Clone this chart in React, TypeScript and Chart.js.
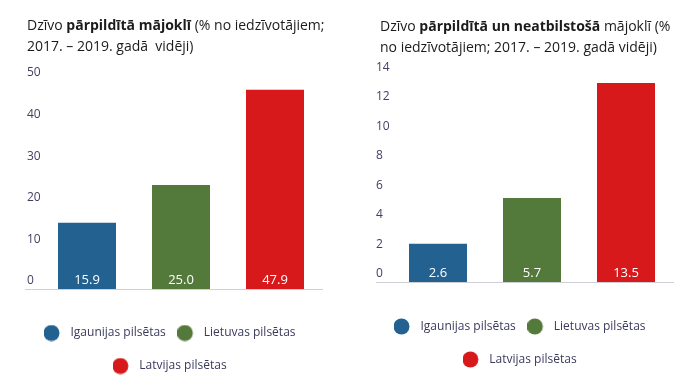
import React, { useEffect, useRef } from "react";
import { Chart, registerables } from "chart.js";

Chart.register(...registerables);

const categories = ["Igaunijas pilsētas", "Lietuvas pilsētas", "Latvijas pilsētas"];
const barColors = ["#236190", "#537a3b", "#d7191c"];
const overcrowdedValues = [15.9, 25.0, 47.9];
const overcrowdedPoorValues = [2.6, 5.7, 13.5];
const leftTickValues = [0, 10, 20, 30, 40, 50];
const rightTickValues = [0, 2, 4, 6, 8, 10, 12, 14];

const FONT = "'Open Sans', 'Noto Sans', sans-serif";
const TICK_COLOR = "#3f3f63";
const LEGEND_COLOR = "#3a3a5c";

function makeDot(color: string) {
  const c = document.createElement("canvas");
  c.width = 30;
  c.height = 17;
  const g = c.getContext("2d")!;
  g.fillStyle = color;
  g.beginPath();
  g.arc(7.5, 8.5, 8, 0, Math.PI * 2);
  g.fill();
  return c;
}

const baselinePlugin = {
  id: "baselineAndValues",
  afterDatasetsDraw(chart: any, _args: any, opts: any) {
    const { ctx, chartArea, scales } = chart;
    const y0 = scales.y.getPixelForValue(0);
    ctx.save();
    ctx.strokeStyle = "#cfcfd8";
    ctx.lineWidth = 1;
    ctx.beginPath();
    const yy = Math.round(y0) + 0.5;
    ctx.moveTo(scales.y.left - (opts.extendLeft || 0), yy);
    ctx.lineTo(chartArea.right + 1, yy);
    ctx.stroke();
    const meta = chart.getDatasetMeta(0);
    const data = chart.data.datasets[0].data;
    ctx.fillStyle = "#ffffff";
    ctx.font = `13px ${FONT}`;
    ctx.textAlign = "center";
    ctx.textBaseline = "middle";
    meta.data.forEach((bar: any, i: number) => {
      ctx.fillText(Number(data[i]).toFixed(1), bar.x, y0 - 8.5);
    });
    ctx.restore();
  },
};

type BarProps = {
  values: number[];
  ticks: number[];
  width: number;
  height: number;
  pad: { top: number; left: number; right: number; bottom: number };
  yWidth: number;
  xHeight: number;
  extendLeft: number;
};

function BarChart(p: BarProps) {
  const ref = useRef<HTMLCanvasElement | null>(null);
  useEffect(() => {
    const dots = barColors.map(makeDot);
    const chart = new Chart(ref.current!, {
      type: "bar",
      data: {
        labels: categories,
        datasets: [
          {
            data: p.values,
            backgroundColor: barColors,
            borderWidth: 0,
            categoryPercentage: 1,
            barPercentage: 0.617,
          },
        ],
      },
      plugins: [baselinePlugin],
      options: {
        responsive: false,
        animation: false,
        layout: { padding: p.pad },
        scales: {
          x: {
            type: "category",
            ticks: { display: false },
            grid: { display: false },
            border: { display: false },
            afterFit: (s: any) => {
              s.height = p.xHeight;
            },
          },
          y: {
            min: p.ticks[0],
            max: p.ticks[p.ticks.length - 1],
            afterBuildTicks: (s: any) => {
              s.ticks = p.ticks.map((v) => ({ value: v }));
            },
            ticks: {
              mirror: true,
              crossAlign: "near",
              padding: -p.yWidth,
              labelOffset: -8,
              color: TICK_COLOR,
              font: { family: FONT, size: 12 },
            },
            grid: { display: false },
            border: { display: false },
            afterFit: (s: any) => {
              s.width = p.yWidth;
            },
          },
        },
        plugins: {
          tooltip: { enabled: false },
          baselineAndValues: { extendLeft: p.extendLeft },
          legend: {
            position: "bottom",
            labels: {
              usePointStyle: true,
              boxWidth: 11,
              boxHeight: 11,
              padding: 21,
              color: LEGEND_COLOR,
              font: { family: FONT, size: 12 },
              generateLabels: () =>
                categories.map((t, i) => ({
                  text: t,
                  fillStyle: barColors[i],
                  strokeStyle: barColors[i],
                  lineWidth: 0,
                  pointStyle: dots[i],
                  hidden: false,
                  index: i,
                  datasetIndex: 0,
                  fontColor: LEGEND_COLOR,
                })),
            },
          },
        } as any,
      } as any,
    });
    return () => chart.destroy();
  }, []);
  return <canvas ref={ref} width={p.width} height={p.height} style={{ display: "block" }} />;
}

const titleStyle: React.CSSProperties = {
  position: "absolute",
  fontFamily: FONT,
  fontSize: 14,
  lineHeight: "21px",
  color: "#1b1b1b",
  whiteSpace: "pre",
  margin: 0,
};

export default function App() {
  return (
    <div style={{ position: "absolute", left: 0, top: 0, width: 689, height: 382, background: "#fff", overflow: "hidden" }}>
      <div style={{ position: "absolute", left: 0, top: 0 }}>
        <BarChart
          values={overcrowdedValues}
          ticks={leftTickValues}
          width={345}
          height={382}
          pad={{ top: 81, left: 27, right: 23, bottom: 0 }}
          yWidth={13}
          xHeight={17}
          extendLeft={2}
        />
      </div>
      <div style={{ position: "absolute", left: 345, top: 0 }}>
        <BarChart
          values={overcrowdedPoorValues}
          ticks={rightTickValues}
          width={344}
          height={382}
          pad={{ top: 75.5, left: 31, right: 16, bottom: 6.5 }}
          yWidth={15}
          xHeight={17.5}
          extendLeft={0}
        />
      </div>
      <div style={{ ...titleStyle, left: 27, top: 14 }}>
        {"Dzīvo "}<b>pārpildītā</b>{" "}<b>mājoklī</b>{" (% no iedzīvotājiem;\n2017. – 2019. gadā  vidēji)"}
      </div>
      <div style={{ ...titleStyle, left: 380, top: 15 }}>
        {"Dzīvo "}<b>pārpildītā un neatbilstošā</b>{" mājoklī (%\nno iedzīvotājiem; 2017. – 2019. gadā vidēji)"}
      </div>
    </div>
  );
}
